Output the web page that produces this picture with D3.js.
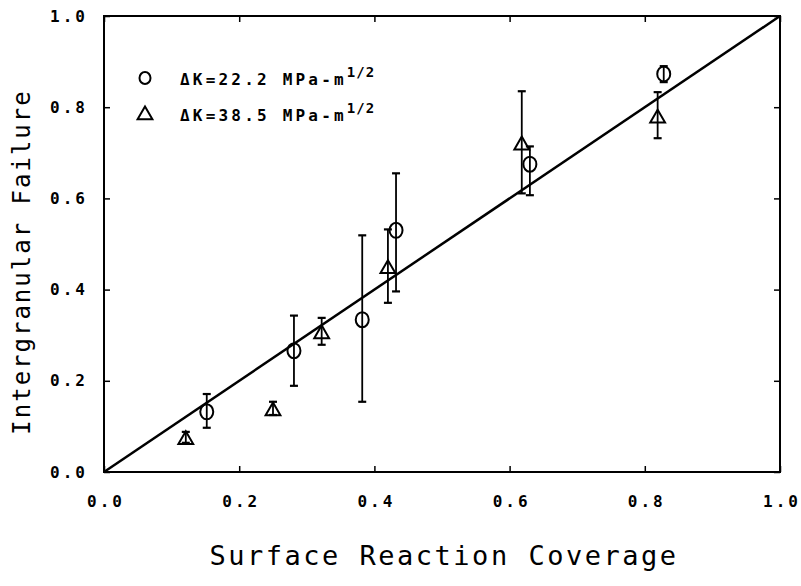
<!DOCTYPE html>
<html>
<head>
<meta charset="utf-8">
<script src="https://cdn.jsdelivr.net/npm/d3@7"></script>
<style>
  body { margin: 0; background: #fff; }
  svg text { font-family: "DejaVu Sans Mono", monospace; fill: #000; }
</style>
</head>
<body>
<svg id="chart" width="801" height="586"></svg>
<script>
// values
const ticks = [0, 0.2, 0.4, 0.6, 0.8, 1.0];

const circleX  = [0.152, 0.281, 0.382, 0.432, 0.630, 0.828];
const circleY  = [0.132, 0.266, 0.334, 0.530, 0.675, 0.873];
const circleLo = [0.097, 0.189, 0.154, 0.396, 0.607, 0.855];
const circleHi = [0.171, 0.343, 0.519, 0.655, 0.714, 0.890];

const triX  = [0.121, 0.250, 0.322, 0.420, 0.618, 0.819];
const triY  = [0.073, 0.136, 0.305, 0.448, 0.719, 0.778];
const triLo = [0.064, 0.125, 0.279, 0.371, 0.611, 0.732];
const triHi = [0.088, 0.154, 0.338, 0.532, 0.835, 0.833];

const fitLine = [[0, 0], [1, 1]];

const margin = {top: 16, right: 21, bottom: 114, left: 104};
const width = 801 - margin.left - margin.right;
const height = 586 - margin.top - margin.bottom;

const svg = d3.select("#chart")
    .append("g")
    .attr("transform", `translate(${margin.left},${margin.top})`);

const x = d3.scaleLinear().domain([0, 1]).range([0, width]);
const y = d3.scaleLinear().domain([0, 1]).range([height, 0]);

const fmt = d => d3.format(".1f")(d);

// axes, ticks pointing inward on all four sides
const styleAxis = g => {
    g.select(".domain").remove();
    g.selectAll(".tick line").attr("stroke", "#000").attr("stroke-width", 1.5);
};

svg.append("g")
    .attr("transform", `translate(0,${height})`)
    .call(d3.axisBottom(x).tickValues(ticks).tickFormat(fmt).tickSizeInner(-6).tickPadding(24))
    .call(styleAxis)
    .selectAll("text")
    .attr("font-size", "16px").attr("font-weight", "bold").attr("letter-spacing", "3px")
    .attr("dx", "1.5px");

svg.append("g")
    .call(d3.axisLeft(y).tickValues(ticks).tickFormat(fmt).tickSizeInner(-6).tickPadding(16))
    .call(styleAxis)
    .selectAll("text")
    .attr("font-size", "16px").attr("font-weight", "bold").attr("letter-spacing", "3px");

svg.append("g")
    .call(d3.axisTop(x).tickValues(ticks).tickFormat("").tickSizeInner(-6))
    .call(styleAxis);

svg.append("g")
    .attr("transform", `translate(${width},0)`)
    .call(d3.axisRight(y).tickValues(ticks).tickFormat("").tickSizeInner(-6))
    .call(styleAxis);

svg.append("rect")
    .attr("width", width).attr("height", height)
    .attr("fill", "none").attr("stroke", "#000").attr("stroke-width", 2);

// y = x line
svg.append("path")
    .datum(fitLine)
    .attr("fill", "none").attr("stroke", "#000").attr("stroke-width", 2.5)
    .attr("d", d3.line().x(d => x(d[0])).y(d => y(d[1])));

function errorBars(xs, lo, hi) {
    const g = svg.append("g").attr("stroke", "#000").attr("stroke-width", 1.8);
    xs.forEach((xv, i) => {
        g.append("line").attr("x1", x(xv)).attr("x2", x(xv)).attr("y1", y(lo[i])).attr("y2", y(hi[i]));
        [lo[i], hi[i]].forEach(v => {
            g.append("line").attr("x1", x(xv) - 4).attr("x2", x(xv) + 4)
                .attr("y1", y(v)).attr("y2", y(v)).attr("stroke-width", 2.2);
        });
    });
}

errorBars(circleX, circleLo, circleHi);
errorBars(triX, triLo, triHi);

const triangle = d3.symbol().type(d3.symbolTriangle).size(95);

svg.selectAll("ellipse.pt")
    .data(circleX)
    .join("ellipse")
    .attr("class", "pt")
    .attr("cx", d => x(d))
    .attr("cy", (d, i) => y(circleY[i]))
    .attr("rx", 6.5).attr("ry", 7.5)
    .attr("fill", "none").attr("stroke", "#000").attr("stroke-width", 2);

svg.selectAll("path.tri")
    .data(triX)
    .join("path")
    .attr("class", "tri")
    .attr("d", triangle)
    .attr("transform", (d, i) => `translate(${x(d)},${y(triY[i]) + 1})`)
    .attr("fill", "none").attr("stroke", "#000").attr("stroke-width", 2);

// legend
const legend = svg.append("g").attr("transform", "translate(41,62)");
legend.append("ellipse").attr("rx", 5.5).attr("ry", 6)
    .attr("fill", "none").attr("stroke", "#000").attr("stroke-width", 2);
legend.append("path").attr("d", triangle)
    .attr("transform", "translate(0,37)")
    .attr("fill", "none").attr("stroke", "#000").attr("stroke-width", 2);

const legendLabels = ["ΔK=22.2 MPa-m", "ΔK=38.5 MPa-m"];
legendLabels.forEach((lab, i) => {
    const t = legend.append("text")
        .attr("x", 35).attr("y", i * 36 + 7)
        .attr("font-size", "16px").attr("font-weight", "bold").attr("letter-spacing", "3.2px");
    t.append("tspan").text(lab);
    t.append("tspan").attr("dy", -8).attr("font-size", "14px").attr("letter-spacing", "1px").text("1/2");
});

// axis titles
svg.append("text")
    .attr("x", width / 2 + 2).attr("y", height + 93)
    .attr("text-anchor", "middle")
    .attr("font-size", "27px").attr("letter-spacing", "2.5px")
    .text("Surface Reaction Coverage");

svg.append("text")
    .attr("transform", `translate(-74,${height / 2 + 18}) rotate(-90)`)
    .attr("text-anchor", "middle")
    .attr("font-size", "24px").attr("letter-spacing", "2px")
    .text("Intergranular Failure");
</script>
</body>
</html>
